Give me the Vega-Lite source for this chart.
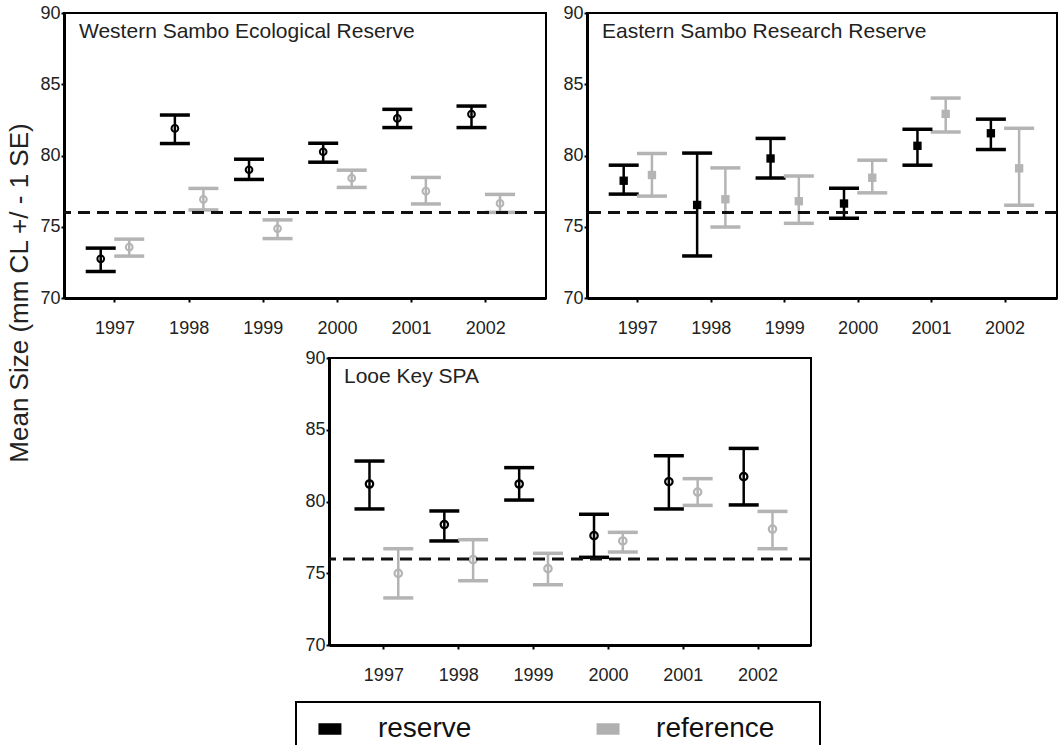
{
  "$schema": "https://vega.github.io/schema/vega-lite/v6.json",
  "padding": {"left": 6, "top": 3, "right": 0, "bottom": 0},
  "title": {"text": "Mean Size (mm CL +/ - 1 SE)", "orient": "left", "anchor": "middle", "frame": "bounds", "offset": 6, "dx": 87, "dy": 0, "fontSize": 26, "fontWeight": "normal", "color": "#222222"},
  "datasets": {
    "d": [
      {"site": "Western Sambo Ecological Reserve", "year": "1997", "group": "reserve", "mean": 72.75, "lo": 71.86, "hi": 73.5},
      {"site": "Western Sambo Ecological Reserve", "year": "1998", "group": "reserve", "mean": 81.9, "lo": 80.84, "hi": 82.84},
      {"site": "Western Sambo Ecological Reserve", "year": "1999", "group": "reserve", "mean": 79.0, "lo": 78.32, "hi": 79.74},
      {"site": "Western Sambo Ecological Reserve", "year": "2000", "group": "reserve", "mean": 80.26, "lo": 79.53, "hi": 80.86},
      {"site": "Western Sambo Ecological Reserve", "year": "2001", "group": "reserve", "mean": 82.6, "lo": 81.96, "hi": 83.24},
      {"site": "Western Sambo Ecological Reserve", "year": "2002", "group": "reserve", "mean": 82.9, "lo": 81.96, "hi": 83.47},
      {"site": "Western Sambo Ecological Reserve", "year": "1997", "group": "reference", "mean": 73.57, "lo": 72.94, "hi": 74.13},
      {"site": "Western Sambo Ecological Reserve", "year": "1998", "group": "reference", "mean": 76.92, "lo": 76.18, "hi": 77.69},
      {"site": "Western Sambo Ecological Reserve", "year": "1999", "group": "reference", "mean": 74.87, "lo": 74.17, "hi": 75.48},
      {"site": "Western Sambo Ecological Reserve", "year": "2000", "group": "reference", "mean": 78.41, "lo": 77.76, "hi": 78.97},
      {"site": "Western Sambo Ecological Reserve", "year": "2001", "group": "reference", "mean": 77.5, "lo": 76.6, "hi": 78.46},
      {"site": "Western Sambo Ecological Reserve", "year": "2002", "group": "reference", "mean": 76.64, "lo": 76.01, "hi": 77.27},
      {"site": "Eastern Sambo Research Reserve", "year": "1997", "group": "reserve", "mean": 78.23, "lo": 77.29, "hi": 79.32},
      {"site": "Eastern Sambo Research Reserve", "year": "1998", "group": "reserve", "mean": 76.53, "lo": 72.95, "hi": 80.17},
      {"site": "Eastern Sambo Research Reserve", "year": "1999", "group": "reserve", "mean": 79.79, "lo": 78.42, "hi": 81.2},
      {"site": "Eastern Sambo Research Reserve", "year": "2000", "group": "reserve", "mean": 76.63, "lo": 75.59, "hi": 77.71},
      {"site": "Eastern Sambo Research Reserve", "year": "2001", "group": "reserve", "mean": 80.68, "lo": 79.32, "hi": 81.84},
      {"site": "Eastern Sambo Research Reserve", "year": "2002", "group": "reserve", "mean": 81.56, "lo": 80.42, "hi": 82.55},
      {"site": "Eastern Sambo Research Reserve", "year": "1997", "group": "reference", "mean": 78.63, "lo": 77.15, "hi": 80.14},
      {"site": "Eastern Sambo Research Reserve", "year": "1998", "group": "reference", "mean": 76.93, "lo": 74.98, "hi": 79.13},
      {"site": "Eastern Sambo Research Reserve", "year": "1999", "group": "reference", "mean": 76.79, "lo": 75.24, "hi": 78.56},
      {"site": "Eastern Sambo Research Reserve", "year": "2000", "group": "reference", "mean": 78.44, "lo": 77.38, "hi": 79.67},
      {"site": "Eastern Sambo Research Reserve", "year": "2001", "group": "reference", "mean": 82.92, "lo": 81.65, "hi": 84.03},
      {"site": "Eastern Sambo Research Reserve", "year": "2002", "group": "reference", "mean": 79.1, "lo": 76.51, "hi": 81.91},
      {"site": "Looe Key SPA", "year": "1997", "group": "reserve", "mean": 81.22, "lo": 79.48, "hi": 82.82},
      {"site": "Looe Key SPA", "year": "1998", "group": "reserve", "mean": 78.39, "lo": 77.25, "hi": 79.34},
      {"site": "Looe Key SPA", "year": "1999", "group": "reserve", "mean": 81.22, "lo": 80.1, "hi": 82.36},
      {"site": "Looe Key SPA", "year": "2000", "group": "reserve", "mean": 77.62, "lo": 76.11, "hi": 79.11},
      {"site": "Looe Key SPA", "year": "2001", "group": "reserve", "mean": 81.38, "lo": 79.48, "hi": 83.19},
      {"site": "Looe Key SPA", "year": "2002", "group": "reserve", "mean": 81.73, "lo": 79.76, "hi": 83.7},
      {"site": "Looe Key SPA", "year": "1997", "group": "reference", "mean": 74.99, "lo": 73.28, "hi": 76.71},
      {"site": "Looe Key SPA", "year": "1998", "group": "reference", "mean": 75.95, "lo": 74.48, "hi": 77.34},
      {"site": "Looe Key SPA", "year": "1999", "group": "reference", "mean": 75.32, "lo": 74.2, "hi": 76.39},
      {"site": "Looe Key SPA", "year": "2000", "group": "reference", "mean": 77.25, "lo": 76.48, "hi": 77.85},
      {"site": "Looe Key SPA", "year": "2001", "group": "reference", "mean": 80.66, "lo": 79.73, "hi": 81.59},
      {"site": "Looe Key SPA", "year": "2002", "group": "reference", "mean": 78.08, "lo": 76.71, "hi": 79.31}
    ],
    "cutoff": [{"size": 76}]
  },
  "config": {
    "font": "Liberation Sans",
    "view": {"stroke": "#000000", "strokeWidth": 2},
    "axis": {
      "grid": false,
      "labelFont": "Liberation Sans",
      "labelFontSize": 18,
      "labelColor": "#222222",
      "domainColor": "#000000",
      "domainWidth": 3,
      "tickColor": "#000000",
      "tickWidth": 2
    },
    "axisX": {"labelAngle": 0, "tickSize": 4, "labelPadding": 17, "title": null},
    "axisY": {"tickSize": 3, "labelPadding": 1, "title": null},
    "tick": {"opacity": 1},
    "rule": {"opacity": 1}
  },
  "vconcat": [
    {
      "vconcat": [
        {
          "hconcat": [
            {
              "width": 482,
              "height": 285,
              "title": {"text": "Western Sambo Ecological Reserve", "fontSize": 21, "fontWeight": "normal", "color": "#222222", "anchor": "start", "frame": "group", "offset": -38, "dx": 15},
              "layer": [
                {
                  "data": {"name": "d"},
                  "transform": [{"filter": "datum.site === 'Western Sambo Ecological Reserve'"}],
                  "layer": [
                    {
                      "mark": {"type": "rule", "strokeWidth": 2.5},
                      "encoding": {
                        "x": {"field": "year", "type": "ordinal", "scale": {"paddingInner": 0, "paddingOuter": 0.25, "align": 0.375}},
                        "xOffset": {"field": "group", "type": "nominal", "scale": {"domain": ["reserve", "reference"], "paddingInner": 0, "paddingOuter": 0.3}},
                        "color": {"field": "group", "type": "nominal", "scale": {"domain": ["reserve", "reference"], "range": ["#000000", "#b4b4b4"]}, "legend": null},
                        "y": {"field": "lo", "type": "quantitative", "scale": {"domain": [70, 90], "nice": false}, "axis": {"values": [70, 75, 80, 85, 90], "title": null}},
                        "y2": {"field": "hi"}
                      }
                    },
                    {
                      "mark": {"type": "tick", "thickness": 3.5, "opacity": 1},
                      "encoding": {
                        "x": {"field": "year", "type": "ordinal"},
                        "xOffset": {"field": "group", "type": "nominal"},
                        "color": {"field": "group", "type": "nominal", "legend": null},
                        "y": {"field": "lo", "type": "quantitative"},
                        "size": {"value": 30}
                      }
                    },
                    {
                      "mark": {"type": "tick", "thickness": 3.5, "opacity": 1},
                      "encoding": {
                        "x": {"field": "year", "type": "ordinal"},
                        "xOffset": {"field": "group", "type": "nominal"},
                        "color": {"field": "group", "type": "nominal", "legend": null},
                        "y": {"field": "hi", "type": "quantitative"},
                        "size": {"value": 30}
                      }
                    },
                    {
                      "mark": {"type": "point", "shape": "circle", "filled": false, "size": 45, "strokeWidth": 2, "opacity": 1},
                      "encoding": {
                        "x": {"field": "year", "type": "ordinal"},
                        "xOffset": {"field": "group", "type": "nominal"},
                        "color": {"field": "group", "type": "nominal", "legend": null},
                        "y": {"field": "mean", "type": "quantitative"}
                      }
                    }
                  ]
                },
                {
                  "data": {"name": "cutoff"},
                  "mark": {"type": "rule", "strokeDash": [12, 7], "strokeWidth": 3, "color": "#111111"},
                  "encoding": {"y": {"field": "size", "type": "quantitative"}}
                }
              ]
            },
            {
              "width": 470,
              "height": 285,
              "title": {"text": "Eastern Sambo Research Reserve", "fontSize": 21, "fontWeight": "normal", "color": "#222222", "anchor": "start", "frame": "group", "offset": -38, "dx": 15},
              "layer": [
                {
                  "data": {"name": "d"},
                  "transform": [{"filter": "datum.site === 'Eastern Sambo Research Reserve'"}],
                  "layer": [
                    {
                      "mark": {"type": "rule", "strokeWidth": 2.5},
                      "encoding": {
                        "x": {"field": "year", "type": "ordinal", "scale": {"paddingInner": 0, "paddingOuter": 0.2, "align": 0.48}},
                        "xOffset": {"field": "group", "type": "nominal", "scale": {"domain": ["reserve", "reference"], "paddingInner": 0, "paddingOuter": 0.3}},
                        "color": {"field": "group", "type": "nominal", "scale": {"domain": ["reserve", "reference"], "range": ["#000000", "#b4b4b4"]}, "legend": null},
                        "y": {"field": "lo", "type": "quantitative", "scale": {"domain": [70, 90], "nice": false}, "axis": {"values": [70, 75, 80, 85, 90], "title": null}},
                        "y2": {"field": "hi"}
                      }
                    },
                    {
                      "mark": {"type": "tick", "thickness": 3.5, "opacity": 1},
                      "encoding": {
                        "x": {"field": "year", "type": "ordinal"},
                        "xOffset": {"field": "group", "type": "nominal"},
                        "color": {"field": "group", "type": "nominal", "legend": null},
                        "y": {"field": "lo", "type": "quantitative"},
                        "size": {"value": 30}
                      }
                    },
                    {
                      "mark": {"type": "tick", "thickness": 3.5, "opacity": 1},
                      "encoding": {
                        "x": {"field": "year", "type": "ordinal"},
                        "xOffset": {"field": "group", "type": "nominal"},
                        "color": {"field": "group", "type": "nominal", "legend": null},
                        "y": {"field": "hi", "type": "quantitative"},
                        "size": {"value": 30}
                      }
                    },
                    {
                      "mark": {"type": "point", "shape": "square", "filled": true, "size": 70, "opacity": 1},
                      "encoding": {
                        "x": {"field": "year", "type": "ordinal"},
                        "xOffset": {"field": "group", "type": "nominal"},
                        "color": {"field": "group", "type": "nominal", "legend": null},
                        "y": {"field": "mean", "type": "quantitative"}
                      }
                    }
                  ]
                },
                {
                  "data": {"name": "cutoff"},
                  "mark": {"type": "rule", "strokeDash": [12, 7], "strokeWidth": 3, "color": "#111111"},
                  "encoding": {"y": {"field": "size", "type": "quantitative"}}
                }
              ]
            }
          ],
          "spacing": 41,
          "bounds": "flush",
          "resolve": {"scale": {"x": "independent", "y": "independent", "xOffset": "independent", "color": "independent"}}
        },
        {
          "hconcat": [
            {
              "width": 229,
              "height": 10,
              "view": {"stroke": null},
              "data": {"values": []},
              "mark": "point"
            },
            {
              "width": 482,
              "height": 287,
              "title": {"text": "Looe Key SPA", "fontSize": 21, "fontWeight": "normal", "color": "#222222", "anchor": "start", "frame": "group", "offset": -38, "dx": 15},
              "layer": [
                {
                  "data": {"name": "d"},
                  "transform": [{"filter": "datum.site === 'Looe Key SPA'"}],
                  "layer": [
                    {
                      "mark": {"type": "rule", "strokeWidth": 2.5},
                      "encoding": {
                        "x": {"field": "year", "type": "ordinal", "scale": {"paddingInner": 0, "paddingOuter": 0.22, "align": 0.53}},
                        "xOffset": {"field": "group", "type": "nominal", "scale": {"domain": ["reserve", "reference"], "paddingInner": 0, "paddingOuter": 0.3}},
                        "color": {"field": "group", "type": "nominal", "scale": {"domain": ["reserve", "reference"], "range": ["#000000", "#b4b4b4"]}, "legend": null},
                        "y": {"field": "lo", "type": "quantitative", "scale": {"domain": [70, 90], "nice": false}, "axis": {"values": [70, 75, 80, 85, 90], "title": null}},
                        "y2": {"field": "hi"}
                      }
                    },
                    {
                      "mark": {"type": "tick", "thickness": 3.5, "opacity": 1},
                      "encoding": {
                        "x": {"field": "year", "type": "ordinal"},
                        "xOffset": {"field": "group", "type": "nominal"},
                        "color": {"field": "group", "type": "nominal", "legend": null},
                        "y": {"field": "lo", "type": "quantitative"},
                        "size": {"value": 30}
                      }
                    },
                    {
                      "mark": {"type": "tick", "thickness": 3.5, "opacity": 1},
                      "encoding": {
                        "x": {"field": "year", "type": "ordinal"},
                        "xOffset": {"field": "group", "type": "nominal"},
                        "color": {"field": "group", "type": "nominal", "legend": null},
                        "y": {"field": "hi", "type": "quantitative"},
                        "size": {"value": 30}
                      }
                    },
                    {
                      "mark": {"type": "point", "shape": "circle", "filled": false, "size": 55, "strokeWidth": 2.2, "opacity": 1},
                      "encoding": {
                        "x": {"field": "year", "type": "ordinal"},
                        "xOffset": {"field": "group", "type": "nominal"},
                        "color": {"field": "group", "type": "nominal", "legend": null},
                        "y": {"field": "mean", "type": "quantitative"}
                      }
                    }
                  ]
                },
                {
                  "data": {"name": "cutoff"},
                  "mark": {"type": "rule", "strokeDash": [12, 7], "strokeWidth": 3, "color": "#111111"},
                  "encoding": {"y": {"field": "size", "type": "quantitative"}}
                }
              ]
            }
          ],
          "spacing": 10,
          "resolve": {"scale": {"x": "independent", "y": "independent", "xOffset": "independent", "color": "independent"}}
        }
      ],
      "spacing": 10,
      "resolve": {"scale": {"x": "independent", "y": "independent", "xOffset": "independent", "color": "independent"}}
    },
    {
      "hconcat": [
        {
          "width": 221,
          "height": 10,
          "view": {"stroke": null},
          "data": {"values": []},
          "mark": "point"
        },
        {
          "width": 524,
          "height": 54,
          "data": {"values": [{"group": "reserve"}, {"group": "reference"}]},
          "layer": [
            {
              "mark": {"type": "point", "shape": "M-1,-0.5H1V0.5H-1Z", "filled": true, "size": 529, "opacity": 1},
              "encoding": {
                "x": {"field": "group", "type": "nominal", "scale": {"type": "point", "domain": ["reserve", "reference"], "padding": 0.442, "align": 0.138}, "axis": null},
                "color": {"field": "group", "type": "nominal", "scale": {"domain": ["reserve", "reference"], "range": ["#000000", "#b0b0b0"]}, "legend": null}
              }
            },
            {
              "mark": {"type": "text", "align": "left", "baseline": "middle", "dx": 48, "fontSize": 28, "color": "#111111"},
              "encoding": {
                "x": {"field": "group", "type": "nominal"},
                "text": {"field": "group", "type": "nominal"}
              }
            }
          ]
        }
      ],
      "spacing": 10,
      "resolve": {"scale": {"x": "independent", "color": "independent"}}
    }
  ],
  "spacing": 16,
  "resolve": {"scale": {"x": "independent", "y": "independent", "xOffset": "independent", "color": "independent"}}
}
